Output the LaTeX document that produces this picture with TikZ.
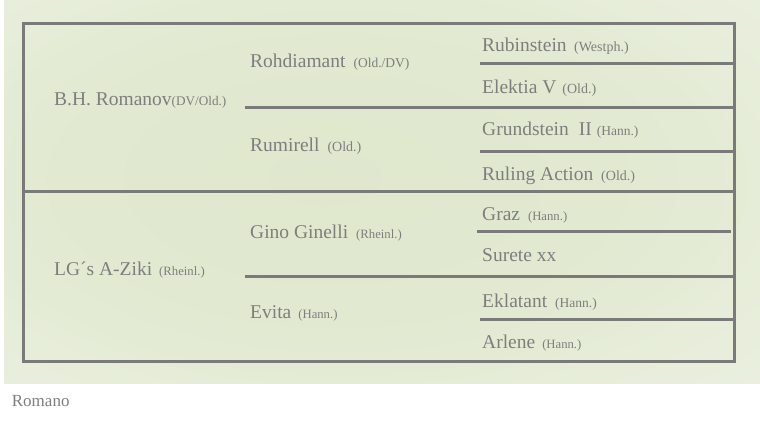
\documentclass[tikz,border=0pt]{standalone}
\usepackage{fontspec}
\setmainfont{Liberation Serif}
\definecolor{rule}{HTML}{7A7A7A}
\definecolor{txt}{HTML}{7E7E7E}
\pgfdeclareradialshading{bgsh}{\pgfpoint{-4bp}{2bp}}{%
  rgb(0bp)=(0.875,0.91,0.805);
  rgb(18bp)=(0.882,0.914,0.816);
  rgb(38bp)=(0.918,0.94,0.874);
  rgb(55bp)=(0.948,0.958,0.925);
  rgb(72bp)=(0.962,0.968,0.948)}
\newcommand{\bigname}[1]{{\fontsize{19.5bp}{22bp}\selectfont #1}}
\newcommand{\smname}[2][14bp]{{\fontsize{#1}{16bp}\selectfont #2}}
\newcommand{\pn}[4][7bp]{\bigname{#3}\hspace{#1}\smname[#2]{#4}}
\tikzset{
  rl/.style={draw=rule, line width=3bp},
  nm/.style={anchor=base west, inner sep=0pt, text=txt}
}
\begin{document}
\begin{tikzpicture}[x=1bp,y=-1bp]
\useasboundingbox (0,0) rectangle (760,422);
\fill[white] (0,0) rectangle (760,422);
\shade[shading=bgsh] (4,0) rectangle (760,383);
% grid coordinates
\coordinate (tl) at (23,23);
\coordinate (br) at (734,361);
\draw[rl] (tl) rectangle (br);
\draw[rl] (23,191) -- (734,191);
\draw[rl] (245,107) -- (734,107);
\draw[rl] (245,276) -- (734,276);
\draw[rl] (480,63) -- (734,63);
\draw[rl] (480,151) -- (734,151);
\draw[rl] (477,231) -- (731,231);
\draw[rl] (480,319) -- (734,319);
% column 1
\node[nm] (s) at (54,105) {\pn[0bp]{13.2bp}{B.H. Romanov}{(DV/Old.)}};
\node[nm] (d) at (54,275) {\pn{12.7bp}{LG´s A-Ziki}{(Rheinl.)}};
% column 2
\node[nm] (ss) at (250,67.7) {\pn[8bp]{13.5bp}{Rohdiamant}{(Old./DV)}};
\node[nm] (sd) at (250,151.7) {\pn[8bp]{14bp}{Rumirell}{(Old.)}};
\node[nm] (ds) at (250,238.3) {\pn[8bp]{12.7bp}{Gino Ginelli}{(Rheinl.)}};
\node[nm] (dd) at (250,318.3) {\pn{12.7bp}{Evita}{(Hann.)}};
% column 3
\node[nm] (sss) at (482,51.7) {\pn[7.5bp]{14bp}{Rubinstein}{(Westph.)}};
\node[nm] (ssd) at (482,93.3) {\pn[6bp]{14bp}{Elektia V}{(Old.)}};
\node[nm] (sds) at (482,135) {\pn[5bp]{13.5bp}{Grundstein\hspace{10bp}II}{(Hann.)}};
\node[nm] (sdd) at (482,180) {\pn[8bp]{14bp}{Ruling Action}{(Old.)}};
\node[nm] (dss) at (482,220.7) {\pn[8bp]{12.7bp}{Graz}{(Hann.)}};
\node[nm] (dsd) at (482,261.7) {\bigname{Surete xx}};
\node[nm] (dds) at (482,307.7) {\pn[8bp]{13.5bp}{Eklatant}{(Hann.)}};
\node[nm] (ddd) at (482,348.3) {\pn{12.7bp}{Arlene}{(Hann.)}};
% caption
\node[nm] (cap) at (11.7,406.7) {\fontsize{17bp}{20bp}\selectfont Romano};
\end{tikzpicture}
\end{document}
